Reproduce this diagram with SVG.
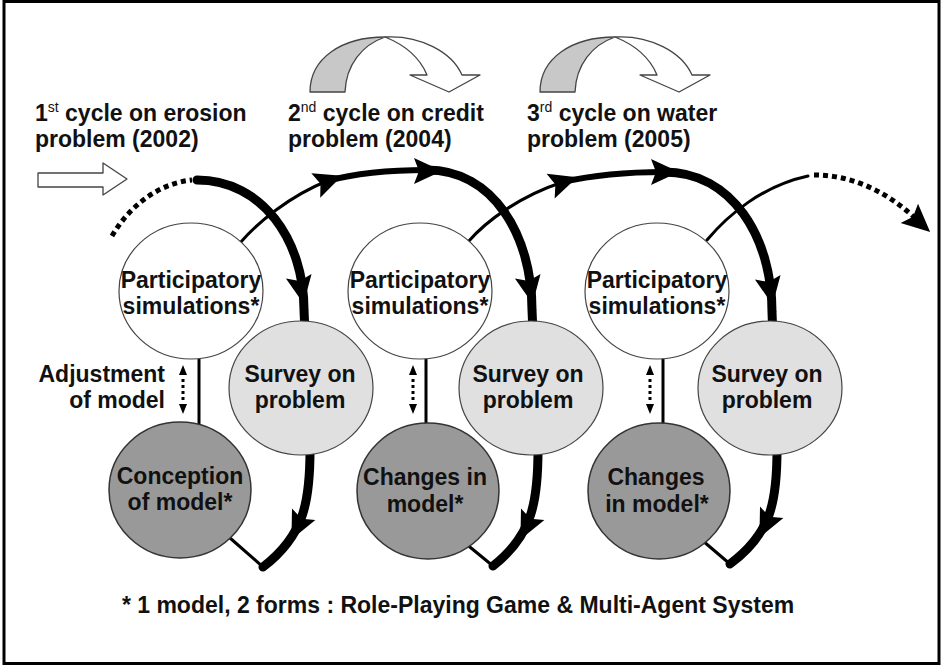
<svg xmlns="http://www.w3.org/2000/svg" xmlns:xlink="http://www.w3.org/1999/xlink" width="941" height="666" viewBox="0 0 941 666">
<defs>
<style>
.t{font-family:"Liberation Sans",Arial,sans-serif;font-weight:bold;font-size:23px;fill:#111}
.tc{font-family:"Liberation Sans",Arial,sans-serif;font-weight:bold;font-size:23px;fill:#111;text-anchor:middle}
.sup{font-weight:normal;font-size:14px}
.pn{fill:#fff;stroke:#444;stroke-width:1.2}
.sn{fill:#e0e0e0;stroke:#444;stroke-width:1.2}
.cn{fill:#999;stroke:#333;stroke-width:1.5}
.thk{fill:none;stroke:#000;stroke-width:9;stroke-linecap:round}
.mid{fill:none;stroke:#000;stroke-width:6;stroke-linecap:round}
.thn{fill:none;stroke:#000;stroke-width:3;stroke-linecap:round}
.dot{fill:none;stroke:#000;stroke-width:5;stroke-dasharray:5 4}
.blk{fill:#fff;stroke:#444;stroke-width:1.3;stroke-linejoin:round}
</style>
<polygon id="ah" points="15,0 -13,-13 -8,0 -13,13" fill="#000"/>
<g id="adj">
<polygon points="-4,10 0,0 4,10" fill="#000"/>
<line x1="0" y1="14" x2="0" y2="38" stroke="#000" stroke-width="3" stroke-dasharray="3 3"/>
<polygon points="-4,39 0,49 4,39" fill="#000"/>
</g>
</defs>
<rect x="4" y="1.5" width="935" height="662" fill="#fff" stroke="#000" stroke-width="3"/>

<g id="decor">
<path class="blk" d="M38,173 L103,173 L103,163 L127,179 L103,195 L103,187 L38,187 Z"/>
<path class="blk" d="M385,37 C420,35 452,52 462,75 L480,75 L449,92 L410,75 L427,75 C420,58 405,45 385,37 Z"/>
<path class="blk" style="fill:#c8c8c8" d="M310,92 C310,58 342,37 385,37 C362,45 346,65 345,92 Z"/>
<path class="blk" d="M615,37 C650,35 682,52 692,75 L710,75 L679,92 L640,75 L657,75 C650,58 635,45 615,37 Z"/>
<path class="blk" style="fill:#c8c8c8" d="M540,92 C540,58 572,37 615,37 C592,45 576,65 575,92 Z"/>
</g>

<g id="titles">
<text class="t" x="35" y="121">1<tspan class="sup" dy="-9">st</tspan><tspan dy="9"> cycle on erosion</tspan></text>
<text class="t" x="35" y="147">problem (2002)</text>
<text class="t" x="288" y="121">2<tspan class="sup" dy="-9">nd</tspan><tspan dy="9"> cycle on credit</tspan></text>
<text class="t" x="288" y="147">problem (2004)</text>
<text class="t" x="527" y="121">3<tspan class="sup" dy="-9">rd</tspan><tspan dy="9"> cycle on water</tspan></text>
<text class="t" x="527" y="147">problem (2005)</text>
<text class="t" x="165" y="382" text-anchor="end">Adjustment</text>
<text class="t" x="165" y="408" text-anchor="end">of model</text>
<text class="tc" x="458" y="613">* 1 model, 2 forms : Role-Playing Game &amp; Multi-Agent System</text>
</g>

<g id="connectors">
<!-- cycle 1 -->
<path class="dot" d="M112,236 C130,205 160,183 192,180"/>
<path class="thk" d="M197,180 C262,180 304,240 304,310 L310,450 C310,500 305,535 263,567"/>
<path class="thn" d="M230,538 L263,567"/>
<use xlink:href="#ah" transform="translate(301,289) rotate(80)"/>
<use xlink:href="#ah" transform="translate(298,526) rotate(116)"/>
<!-- cycle 2 -->
<path class="thn" d="M240,243 C258,222 290,196 327,181"/>
<path class="mid" d="M327,181 C360,172 395,170 427,170"/>
<path class="thk" d="M427,170 C493,170 532,235 532,310 L538,450 C538,500 533,535 493,566"/>
<path class="thn" d="M465,543 L493,566"/>
<use xlink:href="#ah" transform="translate(328,181) rotate(-20)"/>
<use xlink:href="#ah" transform="translate(427,171) rotate(0)"/>
<use xlink:href="#ah" transform="translate(530,289) rotate(80)"/>
<use xlink:href="#ah" transform="translate(527,526) rotate(116)"/>
<!-- cycle 3 -->
<path class="thn" d="M468,242 C486,221 520,196 563,182"/>
<path class="mid" d="M563,182 C598,174 630,172 664,172"/>
<path class="thk" d="M664,172 C732,172 772,237 772,312 L777,450 C777,500 772,533 730,564"/>
<path class="thn" d="M703,541 L730,564"/>
<use xlink:href="#ah" transform="translate(563,182) rotate(-18)"/>
<use xlink:href="#ah" transform="translate(664,172) rotate(0)"/>
<use xlink:href="#ah" transform="translate(770,290) rotate(80)"/>
<use xlink:href="#ah" transform="translate(766,524) rotate(116)"/>
<!-- continuation -->
<path class="thn" d="M707,240 C728,215 762,186 808,176"/>
<path class="dot" d="M814,175 C850,175 885,190 915,218"/>
<use xlink:href="#ah" transform="translate(919,222) rotate(42)"/>
<!-- adjustment links -->
<line x1="199" y1="358" x2="199" y2="424" stroke="#000" stroke-width="3"/>
<line x1="426" y1="358" x2="426" y2="424" stroke="#000" stroke-width="3"/>
<line x1="663" y1="358" x2="663" y2="424" stroke="#000" stroke-width="3"/>
<use xlink:href="#adj" transform="translate(183,365)"/>
<use xlink:href="#adj" transform="translate(413,365)"/>
<use xlink:href="#adj" transform="translate(650,365)"/>
</g>

<g id="p1"><ellipse class="pn" cx="191" cy="291" rx="72" ry="68"/>
<text class="tc" x="191" y="288">Participatory</text><text class="tc" x="191" y="314">simulations*</text></g>
<g id="s1"><ellipse class="sn" cx="301" cy="388" rx="72" ry="67"/>
<text class="tc" x="300" y="382">Survey on</text><text class="tc" x="300" y="408">problem</text></g>
<g id="c1"><ellipse class="cn" cx="180" cy="490" rx="71" ry="68"/>
<text class="tc" x="180" y="484">Conception</text><text class="tc" x="180" y="510">of model*</text></g>

<g id="p2"><ellipse class="pn" cx="420" cy="291" rx="72" ry="68"/>
<text class="tc" x="420" y="288">Participatory</text><text class="tc" x="420" y="314">simulations*</text></g>
<g id="s2"><ellipse class="sn" cx="531" cy="388" rx="72" ry="67"/>
<text class="tc" x="528" y="382">Survey on</text><text class="tc" x="528" y="408">problem</text></g>
<g id="c2"><ellipse class="cn" cx="428" cy="491" rx="71" ry="68"/>
<text class="tc" x="425" y="485">Changes in</text><text class="tc" x="425" y="512">model*</text></g>

<g id="p3"><ellipse class="pn" cx="657" cy="291" rx="72" ry="68"/>
<text class="tc" x="657" y="288">Participatory</text><text class="tc" x="657" y="314">simulations*</text></g>
<g id="s3"><ellipse class="sn" cx="770" cy="388" rx="72" ry="67"/>
<text class="tc" x="767" y="382">Survey on</text><text class="tc" x="767" y="408">problem</text></g>
<g id="c3"><ellipse class="cn" cx="659" cy="491" rx="71" ry="68"/>
<text class="tc" x="656" y="485">Changes</text><text class="tc" x="657" y="512">in model*</text></g>
</svg>
